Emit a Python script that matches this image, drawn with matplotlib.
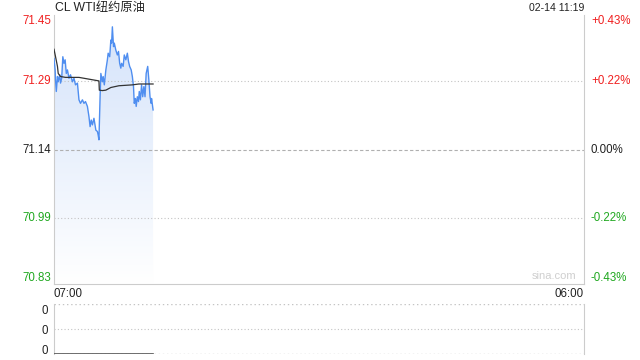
import numpy as np
import matplotlib.pyplot as plt
from matplotlib.colors import LinearSegmentedColormap

plt.rcParams['font.family'] = ['Liberation Sans', 'Noto Sans CJK SC', 'DejaVu Sans']

# --- data (minutes after 07:00) ---
prev_close = 71.14
minutes = [0, 3, 4, 6, 9, 11, 15, 17, 20, 23, 26, 29, 32, 35, 39, 43, 48, 52, 56, 61,
           65, 69, 74, 78, 82, 87, 91, 94, 97, 100, 104, 109, 113, 115, 117, 120, 122, 126, 128, 131,
           135, 139, 141, 145, 148, 150, 152, 155, 157, 161, 165, 168, 171, 174, 176, 180, 183, 187, 191, 194,
           197, 201, 204, 207, 209, 212, 214, 217, 220, 222, 225, 228, 231, 234, 237, 240, 244, 247, 250, 253,
           254, 258]
price = [71.347, 71.321, 71.298, 71.272, 71.306, 71.294, 71.310, 71.291, 71.302, 71.351,
         71.336, 71.344, 71.313, 71.321, 71.302, 71.310, 71.294, 71.302, 71.287, 71.291,
         71.253, 71.245, 71.253, 71.245, 71.249, 71.238, 71.215, 71.192, 71.207, 71.196,
         71.211, 71.184, 71.181, 71.173, 71.162, 71.260, 71.313, 71.294, 71.306, 71.287,
         71.321, 71.344, 71.359, 71.351, 71.389, 71.382, 71.419, 71.374, 71.382, 71.366,
         71.355, 71.363, 71.336, 71.325, 71.336, 71.329, 71.355, 71.344, 71.359, 71.340,
         71.329, 71.321, 71.306, 71.283, 71.245, 71.256, 71.238, 71.260, 71.249, 71.272,
         71.253, 71.287, 71.260, 71.283, 71.260, 71.313, 71.329, 71.298, 71.260, 71.245,
         71.256, 71.230]
avg_minutes = [0, 4, 9, 11, 17, 30, 65, 91, 117, 118, 126, 135, 148, 169, 204, 221, 258]
avg_price = [71.368, 71.351, 71.329, 71.313, 71.306, 71.304, 71.304, 71.300, 71.296,
             71.275, 71.274, 71.275, 71.281, 71.285, 71.287, 71.289, 71.289]
vol_minutes = [0, 258]
volume = [0, 0]

pct_levels = [0.43, 0.22, 0.0, -0.22, -0.43]
price_labels = ['71.45', '71.29', '71.14', '70.99', '70.83']
pct_labels = ['+0.43%', '+0.22%', '0.00%', '-0.22%', '-0.43%']
session_len = 1380  # 07:00 -> 06:00
title = 'CL WTI纽约原油'
stamp = '02-14 11:19'

red = '#f02020'
green = '#20a820'

fig = plt.figure(figsize=(6.4, 3.6), dpi=100)
ax = fig.add_axes([54/640, 1-284/360, 530/640, 269/360])
axv = fig.add_axes([54/640, 1-354/360, 530/640, 50/360])

levels = [prev_close * (1 + p/100) for p in pct_levels]
ymax, ymin = levels[0], levels[-1]

# gradient fill under price
x = np.array(minutes)
y = np.array(price)
poly = ax.fill_between(x, y, ymin, color='none', lw=0)
cmap = LinearSegmentedColormap.from_list('g', ['#ffffff', '#d3e2fa'])
grad = np.linspace(0, 1, 256).reshape(-1, 1)
im = ax.imshow(grad, extent=[0, session_len, ymin, ymax], origin='lower',
               aspect='auto', cmap=cmap, zorder=1)
im.set_clip_path(poly.get_paths()[0], transform=ax.transData)

ax.plot(minutes, price, color='#4f8ef0', lw=1.0, zorder=3)
ax.plot(avg_minutes, avg_price, color='#333333', lw=0.9, zorder=4)

ax.axhline(levels[1], color='#c4c4c4', lw=0.8, ls=(0, (1, 2)), zorder=2)
ax.axhline(levels[2], color='#b0b0b0', lw=0.8, ls=(0, (3, 2)), zorder=2)
ax.axhline(levels[3], color='#c4c4c4', lw=0.8, ls=(0, (1, 2)), zorder=2)

ax.set_xlim(0, session_len)
ax.set_ylim(ymin, ymax)
for s in ['left', 'right', 'bottom']:
    ax.spines[s].set_color('#cccccc')
ax.spines['top'].set_visible(False)

colors = [red, red, '#222222', green, green]
vas = ['top', 'center', 'center', 'center', 'bottom']
ax.set_yticks(levels)
ax.set_yticklabels(price_labels)
ax.tick_params(axis='y', length=0, pad=2, labelsize=8.3)
for lab, c, va in zip(ax.get_yticklabels(), colors, vas):
    lab.set_color(c)
    lab.set_va(va)

ax2 = ax.twinx()
ax2.set_ylim(ymin, ymax)
ax2.set_yticks(levels)
ax2.set_yticklabels(pct_labels)
ax2.tick_params(axis='y', length=0, pad=5, labelsize=8.3)
for lab, c, va in zip(ax2.get_yticklabels(), colors, vas):
    lab.set_color(c)
    lab.set_va(va)
for s in ax2.spines.values():
    s.set_visible(False)

ax.set_xticks([0, session_len])
ax.set_xticklabels(['07:00', '06:00'])
ax.tick_params(axis='x', length=0, pad=3, labelsize=8.3, labelcolor='#222222')
xl = ax.get_xticklabels()
xl[0].set_ha('left')
xl[1].set_ha('right')

ax.text(0.985, 0.01, 'sina.com', transform=ax.transAxes, ha='right', va='bottom',
        color='#cfcfcf', fontsize=8)
fig.text(55/640, 1-8/360, title, ha='left', va='center', fontsize=8.8, color='#222222')
fig.text(584/640, 1-8/360, stamp, ha='right', va='center', fontsize=7.6, color='#222222')

# volume panel
axv.plot(vol_minutes, volume, color='#555555', lw=1.2, zorder=3)
axv.set_xlim(0, session_len)
axv.set_ylim(0, 1)
axv.axhline(0.5, color='#c4c4c4', lw=0.8, ls=(0, (1, 2)))
axv.axhline(1.0, color='#c4c4c4', lw=1.0, ls=(0, (1, 2)))
axv.axhline(0.0, color='#c4c4c4', lw=1.0, ls=(0, (1, 2)), zorder=2)
for s in ['top', 'bottom']:
    axv.spines[s].set_visible(False)
for s in ['left', 'right']:
    axv.spines[s].set_color('#cccccc')
axv.set_xticks([])
axv.set_yticks([0.1, 0.5, 0.88])
axv.set_yticklabels(['0', '0', '0'])
axv.tick_params(axis='y', length=0, pad=4, labelsize=8.3, labelcolor='#222222')

fig.savefig('out.png', dpi=100)
